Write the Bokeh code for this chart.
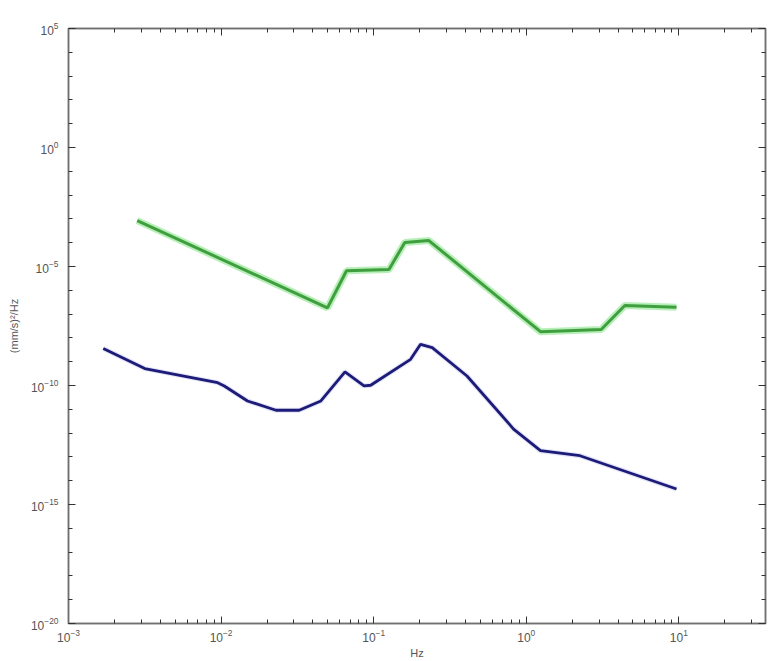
from bokeh.plotting import figure
from bokeh.models import LogAxis, FixedTicker, Range1d
from bokeh.embed import file_html
from bokeh.resources import INLINE

# Green (high) curve
hi_freq = [0.00282, 0.0498, 0.0664, 0.126, 0.16, 0.23, 1.24, 3.1, 4.43, 9.66]
hi_logpsd = [-3.07, -6.74, -5.18, -5.13, -3.99, -3.91, -7.74, -7.65, -6.64, -6.71]

# Blue (low) curve
lo_freq = [0.00169, 0.00316, 0.0095, 0.0105, 0.0149, 0.0229, 0.0325, 0.0451,
           0.0649, 0.0865, 0.0956, 0.1746, 0.203, 0.242, 0.409, 0.826, 1.24,
           2.25, 9.66]
lo_logpsd = [-8.45, -9.29, -9.88, -10.02, -10.65, -11.04, -11.04, -10.65,
             -9.43, -10.02, -9.99, -8.90, -8.27, -8.41, -9.60, -11.83, -12.74,
             -12.95, -14.35]

hi_psd = [10 ** v for v in hi_logpsd]
lo_psd = [10 ** v for v in lo_logpsd]

y_major = [10.0 ** e for e in range(-20, 6, 5)]
y_minor = [10.0 ** e for e in range(-20, 6)]
x_major = [10.0 ** e for e in range(-3, 2)]
x_minor = [k * 10.0 ** e for e in range(-3, 2) for k in range(2, 10) if k * 10.0 ** e < 37]

FONT = "Liberation Sans"
AX_COL = "#707070"
LBL_COL = "#555555"

p = figure(width=768, height=661, x_axis_type="log", y_axis_type="log",
           x_range=Range1d(1e-3, 37), y_range=Range1d(1e-20, 1e5),
           output_backend="svg", toolbar_location=None,
           min_border_left=68, min_border_right=3, min_border_top=28,
           min_border_bottom=30)
p.grid.visible = False
p.outline_line_color = AX_COL
p.outline_line_width = 1.5
p.background_fill_color = "white"

for ax in (p.xaxis[0], p.yaxis[0]):
    ax.axis_line_color = AX_COL
    ax.axis_line_width = 1.5
    ax.major_tick_line_color = "#333333"
    ax.minor_tick_line_color = "#333333"
    ax.major_tick_in = 7
    ax.major_tick_out = 0
    ax.minor_tick_in = 4
    ax.minor_tick_out = 0
    ax.major_label_text_font = FONT
    ax.major_label_text_font_size = "12px"
    ax.major_label_text_color = LBL_COL
    ax.axis_label_text_font = FONT
    ax.axis_label_text_font_size = "11px"
    ax.axis_label_text_font_style = "normal"
    ax.axis_label_text_color = LBL_COL

p.xaxis[0].ticker = FixedTicker(ticks=x_major, minor_ticks=x_minor)
p.yaxis[0].ticker = FixedTicker(ticks=y_major, minor_ticks=y_minor)
p.xaxis[0].axis_label = "Hz"
p.yaxis[0].axis_label = "(mm/s)²/Hz"
p.xaxis[0].major_label_standoff = 5
p.xaxis[0].axis_label_standoff = 2
p.yaxis[0].major_label_standoff = 10
p.yaxis[0].axis_label_standoff = 8

top = LogAxis(ticker=FixedTicker(ticks=x_major, minor_ticks=x_minor))
right = LogAxis(ticker=FixedTicker(ticks=y_major, minor_ticks=y_minor))
for ax in (top, right):
    ax.axis_line_color = AX_COL
    ax.axis_line_width = 1.5
    ax.major_tick_line_color = "#333333"
    ax.minor_tick_line_color = "#333333"
    ax.major_tick_in = 7
    ax.major_tick_out = 0
    ax.minor_tick_in = 4
    ax.minor_tick_out = 0
    ax.major_label_text_font_size = "1px"
    ax.major_label_text_alpha = 0
    ax.major_label_standoff = 0
p.add_layout(top, "above")
p.add_layout(right, "right")

p.line(hi_freq, hi_psd, line_color="#a6eba6", line_width=7, line_alpha=0.8)
p.line(hi_freq, hi_psd, line_color="#3f9f3f", line_width=3)
p.line(lo_freq, lo_psd, line_color="#c8c8f0", line_width=5, line_alpha=0.5)
p.line(lo_freq, lo_psd, line_color="#1c1c78", line_width=2.8)

open("out.html", "w").write(file_html(p, INLINE))
